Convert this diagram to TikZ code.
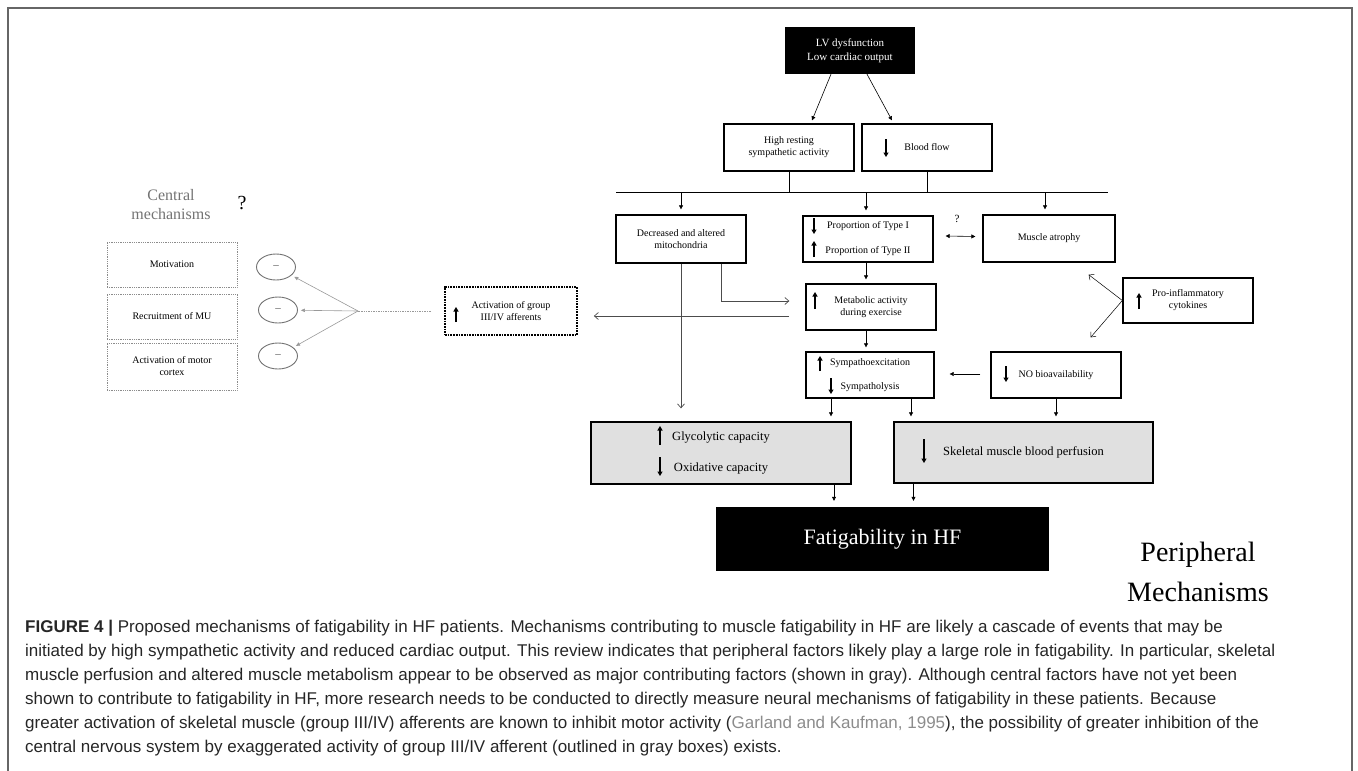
\documentclass[tikz,border=0pt]{standalone}
\usepackage{fontspec}
\setmainfont{Liberation Serif}
\newfontfamily\capfont{Liberation Sans}
\usetikzlibrary{arrows.meta,shapes.geometric}

\begin{document}
\begin{tikzpicture}[x=1pt,y=-1pt,
  plainbox/.style={draw,line width=1.3pt,minimum width=130pt,minimum height=47pt,align=center,inner sep=2pt,font=\fontsize{10}{12}\selectfont},
  greybox/.style={plainbox,fill=black!12,minimum width=260pt,minimum height=62pt,font=\fontsize{12.5}{14}\selectfont},
  blackbox/.style={fill=black,text=white,align=center,inner sep=2pt},
  affbox/.style={draw,densely dotted,line width=1.7pt,minimum width=132pt,minimum height=48pt,align=center,inner sep=2pt,font=\fontsize{10}{12}\selectfont},
  dotbox/.style={draw=black!45,densely dotted,line width=0.8pt,minimum width=130pt,minimum height=45pt,align=center,font=\fontsize{10}{12}\selectfont},
  negell/.style={draw=black!55,line width=0.9pt,ellipse,minimum width=39pt,minimum height=26pt,inner sep=0pt,text=black!70,font=\fontsize{11}{12}\selectfont},
  arr/.style={-{Triangle[length=4pt,width=4pt]},line width=0.6pt},
  dblarr/.style={{Triangle[length=4pt,width=4pt]}-{Triangle[length=4pt,width=4pt]},line width=0.6pt},
  garr/.style={-{Straight Barb[length=4pt,width=7pt]},black!70,line width=0.7pt},
  oarr/.style={-{Straight Barb[length=4pt,width=7pt]},line width=0.5pt},
  grarr/.style={-{Triangle[length=4pt,width=3.5pt]},black!40,line width=0.6pt},
  updn/.style={-{Triangle[length=4.5pt,width=5pt]},line width=1.6pt}
]
\useasboundingbox (0,0) rectangle (1358,771);
\draw[black!60,line width=1.2pt] (8,771) -- (8,8) -- (1352,8) -- (1352,771);

\coordinate (lv) at (850,50.5);
\coordinate (high) at (789,147.5);
\coordinate (blood) at (927,147.5);
\coordinate (mito) at (681,239);
\coordinate (prop) at (868,239);
\coordinate (atrophy) at (1049,238.5);
\coordinate (metab) at (871,307);
\coordinate (afferent) at (511,311);
\coordinate (inflam) at (1188,300.5);
\coordinate (symp) at (870,375);
\coordinate (nobio) at (1056,375);
\coordinate (glyco) at (721,453);
\coordinate (perfus) at (1023.5,452.5);
\coordinate (fatig) at (882.5,539);
\coordinate (motiv) at (172,264.5);
\coordinate (recruit) at (172,316.5);
\coordinate (cortex) at (172,366.5);
\coordinate (neg1) at (276,267);
\coordinate (neg2) at (278,310);
\coordinate (neg3) at (278,356);
\coordinate (conv) at (358,311);
\coordinate (busL) at (616,192);
\coordinate (busR) at (1108,192);
\coordinate (b1) at (681,192);
\coordinate (b2) at (866,192);
\coordinate (b3) at (1045,192);
\coordinate (m1) at (789,316);

\node[blackbox,minimum width=130pt,minimum height=47pt,font=\fontsize{11}{14}\selectfont] (lv) at (lv) {LV dysfunction\\Low cardiac output};
\node[plainbox] (high) at (high) {High resting\\sympathetic activity};
\node[plainbox] (blood) at (blood) {Blood flow};
\node[plainbox,minimum height=48pt] (mito) at (mito) {Decreased and altered\\mitochondria};
\node[plainbox,minimum height=46pt] (prop) at (prop) {Proportion of Type I\\[13pt]Proportion of Type II};
\node[plainbox,minimum width=132pt] (atrophy) at (atrophy) {Muscle atrophy};
\node[plainbox,minimum height=46pt] (metab) at (metab) {Metabolic activity\\during exercise};
\node[affbox] (afferent) at (afferent) {Activation of group\\III/IV afferents};
\node[plainbox,minimum height=45pt] (inflam) at (inflam) {Pro-inflammatory\\cytokines};
\node[plainbox,minimum width=128pt,minimum height=46pt] (symp) at (symp) {Sympathoexcitation\\[12pt]Sympatholysis};
\node[plainbox,minimum height=46pt] (nobio) at (nobio) {NO bioavailability};
\node[greybox] (glyco) at (glyco) {Glycolytic capacity\\[17pt]Oxidative capacity};
\node[greybox,minimum width=259pt,minimum height=61pt] (perfus) at (perfus) {Skeletal muscle blood perfusion};
\node[blackbox,minimum width=333pt,minimum height=64pt,font=\fontsize{22}{26}\selectfont] (fatig) at (fatig) {Fatigability in HF};

\node[dotbox] (motiv) at (motiv) {Motivation};
\node[dotbox] (recruit) at (recruit) {Recruitment of MU};
\node[dotbox,minimum height=47pt] (cortex) at (cortex) {Activation of motor\\cortex};
\node[negell] (neg1) at (neg1) {--};
\node[negell] (neg2) at (neg2) {--};
\node[negell] (neg3) at (neg3) {--};

\node[text=black!55,align=center,font=\fontsize{16}{19}\selectfont] (central) at (171,205) {Central\\mechanisms};
\node[font=\fontsize{20}{24}\selectfont] (q1) at (242,203) {?};
\node[font=\fontsize{11}{13}\selectfont] (q2) at (957,219) {?};
\node[align=center,font=\fontsize{28}{40}\selectfont] (periph) at (1198,572) {Peripheral\\Mechanisms};

\draw[updn] (886,139) -- (886,157);
\draw[updn] (814,218) -- (814,234);
\draw[updn] (814,257) -- (814,241);
\draw[updn] (815,309) -- (815,292);
\draw[updn] (820,371) -- (820,356);
\draw[updn] (831,378) -- (831,394);
\draw[updn] (1006,366) -- (1006,382);
\draw[updn] (456,322) -- (456,307);
\draw[updn] (1139,309) -- (1139,293);
\draw[updn] (660,445) -- (660,426);
\draw[updn] (660,457) -- (660,476);
\draw[updn] (924,439) -- (924,463);

\draw[arr] ([xshift=-19pt]lv.south) -- ([xshift=23pt,yshift=3pt]high.north);
\draw[arr] ([xshift=17pt]lv.south) -- ([xshift=-35pt,yshift=3pt]blood.north);
\draw[line width=0.6pt] (high.south) -- (high.south |- busL);
\draw[line width=0.6pt] (blood.south) -- (blood.south |- busL);
\draw[line width=0.6pt] (busL) -- (busR);
\draw[arr,shorten >=5pt] (b1) -- (b1 |- mito.north);
\draw[arr,shorten >=5pt] (b2) -- (b2 |- prop.north);
\draw[arr,shorten >=5pt] (b3) -- (b3 |- atrophy.north);
\draw[dblarr] ([xshift=12pt,yshift=3pt]prop.east) -- ([xshift=-7pt,yshift=2pt]atrophy.west);
\draw[arr,shorten >=4pt] ([xshift=-2pt]prop.south) -- ([xshift=-2pt]prop.south |- metab.north);
\draw[arr,shorten >=4pt] ([xshift=-5pt]metab.south) -- ([xshift=-5pt]metab.south |- symp.north);
\draw[garr] ([xshift=40pt]mito.south) |- ([xshift=-16pt,yshift=6pt]metab.west);
\draw[garr,shorten >=13pt] (mito.south) -- (mito.south |- glyco.north);
\draw[garr,shorten >=16pt] (m1) -- (m1 -| afferent.east);
\draw[arr] ([xshift=-10pt,yshift=1pt]nobio.west) -- ([xshift=15pt,yshift=1pt]symp.east);
\draw[arr,shorten >=5pt] ([xshift=-39pt]symp.south) -- ([xshift=-39pt]symp.south |- glyco.north);
\draw[arr,shorten >=5pt] ([xshift=41pt]symp.south) -- ([xshift=41pt]symp.south |- perfus.north);
\draw[arr,shorten >=5pt] (nobio.south) -- (nobio.south |- perfus.north);
\draw[arr,shorten >=6pt] ([xshift=113pt]glyco.south) -- ([xshift=113pt]glyco.south |- fatig.north);
\draw[arr,shorten >=6pt] ([xshift=-110pt]perfus.south) -- ([xshift=-110pt]perfus.south |- fatig.north);
\draw[oarr] (inflam.west) -- ([xshift=-27pt,yshift=-12pt]atrophy.south east);
\draw[oarr] (inflam.west) -- ([xshift=-31pt,yshift=14pt]nobio.north east);
\draw[black!40,densely dotted,line width=0.7pt] ([xshift=-13pt]afferent.west) -- (conv);
\draw[grarr,shorten >=3pt] (conv) -- (neg1);
\draw[grarr,shorten >=3pt] (conv) -- (neg2);
\draw[grarr,shorten >=3pt] (conv) -- (neg3);

\node[anchor=north west,align=left,inner sep=0pt,text=black!85,font=\capfont\fontsize{17}{24}\selectfont] (caption) at (25,620) {\textbf{FIGURE 4 |} Proposed mechanisms of fatigability in HF patients. Mechanisms contributing to muscle fatigability in HF are likely a cascade of events that may be\\
initiated by high sympathetic activity and reduced cardiac output. This review indicates that peripheral factors likely play a large role in fatigability. In particular, skeletal\\
muscle perfusion and altered muscle metabolism appear to be observed as major contributing factors (shown in gray). Although central factors have not yet been\\
shown to contribute to fatigability in HF, more research needs to be conducted to directly measure neural mechanisms of fatigability in these patients. Because\\
greater activation of skeletal muscle (group III/IV) afferents are known to inhibit motor activity (\textcolor{black!45}{Garland and Kaufman, 1995}), the possibility of greater inhibition of the\\
central nervous system by exaggerated activity of group III/IV afferent (outlined in gray boxes) exists.};
\end{tikzpicture}
\end{document}
